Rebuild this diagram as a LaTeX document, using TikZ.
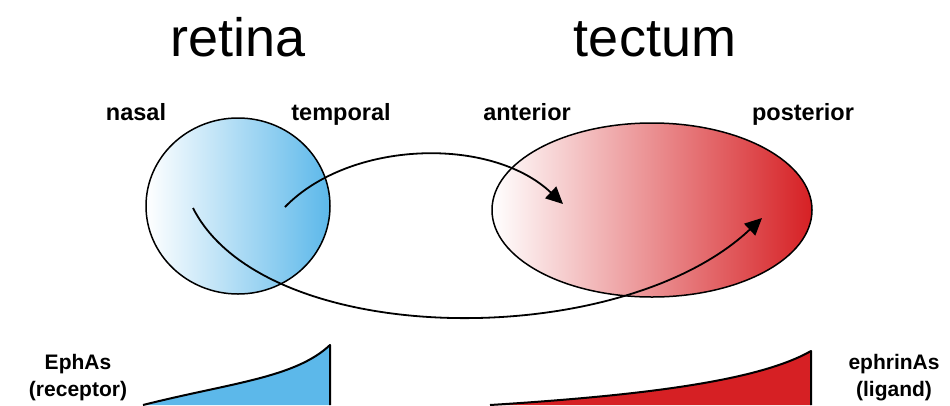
\documentclass[tikz,border=0pt]{standalone}
\usepackage{fontspec}
\setmainfont{Liberation Sans}
\usepackage{xcolor}
\usepackage{tikz}
\usetikzlibrary{positioning,arrows.meta,calc,shapes.geometric}
\definecolor{retblue}{RGB}{92,184,234}
\definecolor{tecred}{RGB}{214,32,36}

\begin{document}
\begin{tikzpicture}[x=1pt,y=-1pt,>={Triangle[length=17pt,width=16pt]},every node/.style={inner sep=0pt}]
\tikzstyle{title}=[font=\fontsize{54}{60}\selectfont,anchor=base]
\tikzstyle{side}=[font=\fontsize{23.5}{27}\selectfont\bfseries,anchor=base]
\tikzstyle{gene}=[font=\fontsize{21}{27}\selectfont\bfseries,align=center]
\tikzstyle{organ}=[ellipse,draw,line width=1.5pt,left color=white]
\tikzstyle{proj}=[->,line width=1.8pt]
\tikzstyle{level}=[line width=2pt,line join=round]
\useasboundingbox (0,0) rectangle (950,405);
\node[organ,minimum width=184pt,minimum height=176pt,right color=retblue] (retina) at (238,206) {};
\node[organ,minimum width=320pt,minimum height=174pt,right color=tecred] (tectum) at (652,210) {};
\node[title] (rettitle) at (238,56) {retina};
\node[title] (tectitle) at (655,56) {tectum};
\node[side] (nasal) at (136,120) {nasal};
\node[side] (temporal) at (341,120) {temporal};
\node[side] (anterior) at (527,120) {anterior};
\node[side] (posterior) at (803,120) {posterior};
\node[gene] (receptor) at (78,378) {EphAs\\(receptor)};
\node[gene] (ligand) at (894,378) {ephrinAs\\(ligand)};
\coordinate (tempaxon) at (285,207);
\coordinate (nasaxon) at (193,208);
\coordinate (antend) at (563,204);
\coordinate (postend) at (762,218);
\draw[proj] (tempaxon) .. controls +(65,-67) and +(-72,-68) .. (antend);
\draw[proj] (nasaxon) .. controls +(72,142) and +(-142,134) .. (postend);
% expression gradients
\fill[retblue] (143,405) .. controls (230,383) and (295,378) .. (330,345) -- (330,405) -- cycle;
\draw[level] (143,405) .. controls (230,383) and (295,378) .. (330,345) -- (330,405);
\fill[tecred] (490,405) .. controls (650,395) and (760,380) .. (811,351) -- (811,405) -- cycle;
\draw[level] (490,405) .. controls (650,395) and (760,380) .. (811,351) -- (811,405);
\end{tikzpicture}
\end{document}
